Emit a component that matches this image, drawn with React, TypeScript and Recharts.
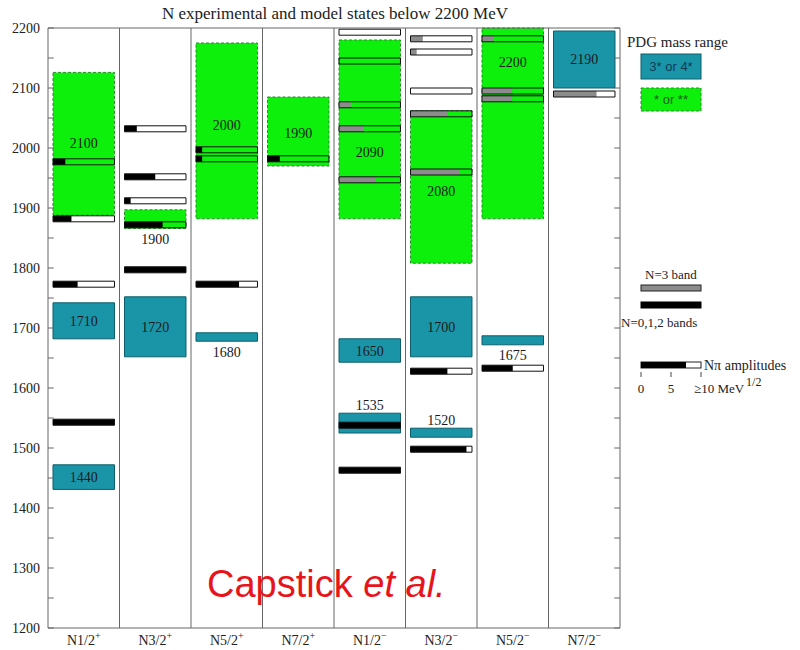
import { ComposedChart, XAxis, YAxis, ReferenceArea, ReferenceLine, ReferenceDot } from "recharts"

const categories = ["N1/2", "N3/2", "N5/2", "N7/2", "N1/2", "N3/2", "N5/2", "N7/2"]
const parities = ["+", "+", "+", "+", "−", "−", "−", "−"]

const yTicks = [1200, 1250, 1300, 1350, 1400, 1450, 1500, 1550, 1600, 1650, 1700, 1750, 1800, 1850, 1900, 1950, 2000, 2050, 2100, 2150, 2200]

// PDG 3* or 4* resonances (mass range in MeV)
const strongStates = [
  { col: 0, lo: 1431, hi: 1472 },
  { col: 0, lo: 1682, hi: 1742 },
  { col: 1, lo: 1652, hi: 1752 },
  { col: 2, lo: 1678, hi: 1692 },
  { col: 4, lo: 1643, hi: 1682 },
  { col: 4, lo: 1525, hi: 1558 },
  { col: 5, lo: 1652, hi: 1752 },
  { col: 5, lo: 1518, hi: 1533 },
  { col: 6, lo: 1672, hi: 1687 },
  { col: 7, lo: 2100, hi: 2195 },
]

// PDG * or ** resonances
const weakStates = [
  { col: 0, lo: 1888, hi: 2126 },
  { col: 1, lo: 1866, hi: 1897 },
  { col: 2, lo: 1882, hi: 2175 },
  { col: 3, lo: 1970, hi: 2085 },
  { col: 4, lo: 1882, hi: 2180 },
  { col: 5, lo: 1808, hi: 2062 },
  { col: 6, lo: 1882, hi: 2200 },
]

const stateLabels = [
  { col: 0, mass: 2008, text: "2100" },
  { col: 0, mass: 1712, text: "1710" },
  { col: 0, mass: 1451, text: "1440" },
  { col: 1, mass: 1848, text: "1900" },
  { col: 1, mass: 1702, text: "1720" },
  { col: 2, mass: 2038, text: "2000" },
  { col: 2, mass: 1660, text: "1680" },
  { col: 3, mass: 2025, text: "1990" },
  { col: 4, mass: 1993, text: "2090" },
  { col: 4, mass: 1662, text: "1650" },
  { col: 4, mass: 1572, text: "1535" },
  { col: 5, mass: 1928, text: "2080" },
  { col: 5, mass: 1702, text: "1700" },
  { col: 5, mass: 1547, text: "1520" },
  { col: 6, mass: 2143, text: "2200" },
  { col: 6, mass: 1655, text: "1675" },
  { col: 7, mass: 2148, text: "2190" },
]

// model states: N=0,1,2 bands (black)
const lowBandStates = [
  { col: 0, mass: 1977, amp: 2 },
  { col: 0, mass: 1882, amp: 3 },
  { col: 0, mass: 1773, amp: 4 },
  { col: 0, mass: 1543, amp: 10 },
  { col: 1, mass: 2032, amp: 2 },
  { col: 1, mass: 1952, amp: 5 },
  { col: 1, mass: 1912, amp: 1 },
  { col: 1, mass: 1872, amp: 6.2 },
  { col: 1, mass: 1797, amp: 10 },
  { col: 2, mass: 1997, amp: 1 },
  { col: 2, mass: 1982, amp: 1 },
  { col: 2, mass: 1773, amp: 7 },
  { col: 3, mass: 1982, amp: 2 },
  { col: 4, mass: 1538, amp: 10 },
  { col: 4, mass: 1463, amp: 10 },
  { col: 5, mass: 1628, amp: 6 },
  { col: 5, mass: 1498, amp: 9.1 },
  { col: 6, mass: 1633, amp: 5 },
]

// model states: N=3 band (grey)
const highBandStates = [
  { col: 4, mass: 2193, amp: 0 },
  { col: 4, mass: 2145, amp: 0 },
  { col: 4, mass: 2072, amp: 1.9 },
  { col: 4, mass: 2032, amp: 3.9 },
  { col: 4, mass: 1947, amp: 6 },
  { col: 5, mass: 2182, amp: 2 },
  { col: 5, mass: 2160, amp: 1 },
  { col: 5, mass: 2095, amp: 0 },
  { col: 5, mass: 2057, amp: 6 },
  { col: 5, mass: 1960, amp: 8 },
  { col: 6, mass: 2182, amp: 1.9 },
  { col: 6, mass: 2095, amp: 4.9 },
  { col: 6, mass: 2082, amp: 4.9 },
  { col: 7, mass: 2090, amp: 7 },
]

const SERIF = "'Liberation Serif', 'DejaVu Serif', serif"
const SANS = "'Liberation Sans', Arial, sans-serif"
const TEAL = "#1a95a8"
const TEAL_EDGE = "#0d5e6a"
const GREEN = "#0cf00c"
const GREEN_EDGE = "#2a8a2a"
const GREY = "#8c8c8c"
const AXIS = "#666"

const PAD = 0.07
const BAR_HALF = 5
const TICK_LEN = 0.08

const chartData = categories.map((c, i) => ({ x: i + 0.5, name: c }))

function CategoryTick(props: any) {
  const { x, y, payload } = props
  const i = Math.floor(payload.value)
  return (
    <text x={x} y={y + 9} textAnchor="middle" style={{ fontFamily: SERIF, fontSize: 14 }} fill="#222">
      {categories[i]}
      <tspan dy={-6} style={{ fontSize: 10 }}>{parities[i]}</tspan>
    </text>
  )
}

function modelBars(list: { col: number; mass: number; amp: number }[], color: string, key: string) {
  const out: any[] = []
  list.forEach((s, i) => {
    const x1 = s.col + PAD
    const x2 = s.col + 1 - PAD
    if (s.amp > 0) {
      out.push(
        <ReferenceArea
          key={`${key}-f-${i}`}
          yAxisId="m"
          x1={x1}
          x2={x1 + ((x2 - x1) * Math.min(s.amp, 10)) / 10}
          y1={s.mass - BAR_HALF}
          y2={s.mass + BAR_HALF}
          fill={color}
          fillOpacity={1}
          stroke="none"
        />
      )
    }
    out.push(
      <ReferenceArea
        key={`${key}-o-${i}`}
        yAxisId="m"
        x1={x1}
        x2={x2}
        y1={s.mass - BAR_HALF}
        y2={s.mass + BAR_HALF}
        fill="none"
        stroke="#111"
        strokeWidth={1}
      />
    )
  })
  return out
}

export default function App() {
  return (
    <div style={{ position: "absolute", left: 0, top: 0, width: 800, height: 650, background: "#fff" }}>
      <ComposedChart width={800} height={650} data={chartData} margin={{ top: 28, right: 180, bottom: 0, left: 0 }}>
        <XAxis
          dataKey="x"
          type="number"
          domain={[0, 8]}
          ticks={chartData.map((d) => d.x)}
          tick={<CategoryTick />}
          tickLine={false}
          axisLine={{ stroke: AXIS }}
          height={22}
          allowDataOverflow
        />
        <YAxis
          yAxisId="m"
          type="number"
          domain={[1200, 2200]}
          ticks={yTicks}
          tickFormatter={(v: number) => (v % 100 === 0 ? String(v) : "")}
          tick={{ fontFamily: SERIF, fontSize: 14, fill: "#222" }}
          tickLine={false}
          axisLine={{ stroke: AXIS }}
          width={48}
          allowDataOverflow
        />

        {weakStates.map((s, i) => (
          <ReferenceArea
            key={`w-${i}`}
            yAxisId="m"
            x1={s.col + PAD}
            x2={s.col + 1 - PAD}
            y1={s.lo}
            y2={s.hi}
            fill={GREEN}
            fillOpacity={1}
            stroke={GREEN_EDGE}
            strokeDasharray="3 2"
          />
        ))}
        {strongStates.map((s, i) => (
          <ReferenceArea
            key={`s-${i}`}
            yAxisId="m"
            x1={s.col + PAD}
            x2={s.col + 1 - PAD}
            y1={s.lo}
            y2={s.hi}
            fill={TEAL}
            fillOpacity={1}
            stroke={TEAL_EDGE}
          />
        ))}

        {modelBars(lowBandStates, "#000", "lo")}
        {modelBars(highBandStates, GREY, "hi")}

        {[1, 2, 3, 4, 5, 6, 7].map((x) => (
          <ReferenceLine key={`d-${x}`} yAxisId="m" x={x} stroke={AXIS} />
        ))}
        <ReferenceLine yAxisId="m" y={2200} stroke={AXIS} />
        <ReferenceLine yAxisId="m" x={8} stroke={AXIS} />

        {yTicks.map((v) => (
          <ReferenceLine
            key={`tl-${v}`}
            yAxisId="m"
            segment={[{ x: 0, y: v }, { x: TICK_LEN, y: v }]}
            stroke={AXIS}
          />
        ))}
        {yTicks.map((v) => (
          <ReferenceLine
            key={`tr-${v}`}
            yAxisId="m"
            segment={[{ x: 8 - TICK_LEN, y: v }, { x: 8, y: v }]}
            stroke={AXIS}
          />
        ))}

        {stateLabels.map((l, i) => (
          <ReferenceDot
            key={`l-${i}`}
            yAxisId="m"
            x={l.col + 0.5}
            y={l.mass}
            r={0}
            fill="none"
            stroke="none"
            label={{ value: l.text, position: "center", fontFamily: SERIF, fontSize: 14, fill: "#1a1a1a" }}
          />
        ))}
      </ComposedChart>

      <svg width={800} height={650} style={{ position: "absolute", left: 0, top: 0, pointerEvents: "none" }}>
        <text x={335} y={19} textAnchor="middle" fontFamily={SERIF} fontSize={17} fill="#222">
          N experimental and model states below 2200 MeV
        </text>

        <text x={627} y={47} fontFamily={SERIF} fontSize={15} fill="#222">PDG mass range</text>
        <rect x={641} y={54} width={60} height={25} fill={TEAL} stroke={TEAL_EDGE} />
        <text x={671} y={71} textAnchor="middle" fontFamily={SANS} fontSize={13} fill="#123a55">3* or 4*</text>
        <rect x={641} y={88} width={60} height={23} fill={GREEN} stroke={GREEN_EDGE} strokeDasharray="3 2" />
        <text x={671} y={104} textAnchor="middle" fontFamily={SANS} fontSize={13} fill="#1c5a1c">* or **</text>

        <text x={645} y={279} fontFamily={SERIF} fontSize={13} fill="#222">N=3 band</text>
        <rect x={641} y={285} width={60} height={6} fill={GREY} stroke="#222" />
        <rect x={641} y={302} width={60} height={6} fill="#000" stroke="#000" />
        <text x={621} y={327} fontFamily={SERIF} fontSize={13} fill="#222">N=0,1,2 bands</text>

        <rect x={641} y={362} width={60} height={6} fill="#fff" stroke="#222" />
        <rect x={641} y={362} width={45} height={6} fill="#000" />
        <text x={704} y={370} fontFamily={SERIF} fontSize={14} fill="#222">Nπ amplitudes</text>
        <line x1={641} y1={372} x2={641} y2={377} stroke="#444" />
        <line x1={671} y1={372} x2={671} y2={377} stroke="#444" />
        <line x1={701} y1={372} x2={701} y2={377} stroke="#444" />
        <text x={641} y={393} textAnchor="middle" fontFamily={SERIF} fontSize={13} fill="#222">0</text>
        <text x={671} y={393} textAnchor="middle" fontFamily={SERIF} fontSize={13} fill="#222">5</text>
        <text x={694} y={393} fontFamily={SERIF} fontSize={13} fill="#222">
          ≥10 MeV<tspan dy={-7} dx={2} fontSize={12}>1/2</tspan>
        </text>

        <text x={207} y={597} fontFamily={SANS} fontSize={38} fill="#e8141c">
          Capstick <tspan fontStyle="italic">et al.</tspan>
        </text>
      </svg>
    </div>
  )
}
